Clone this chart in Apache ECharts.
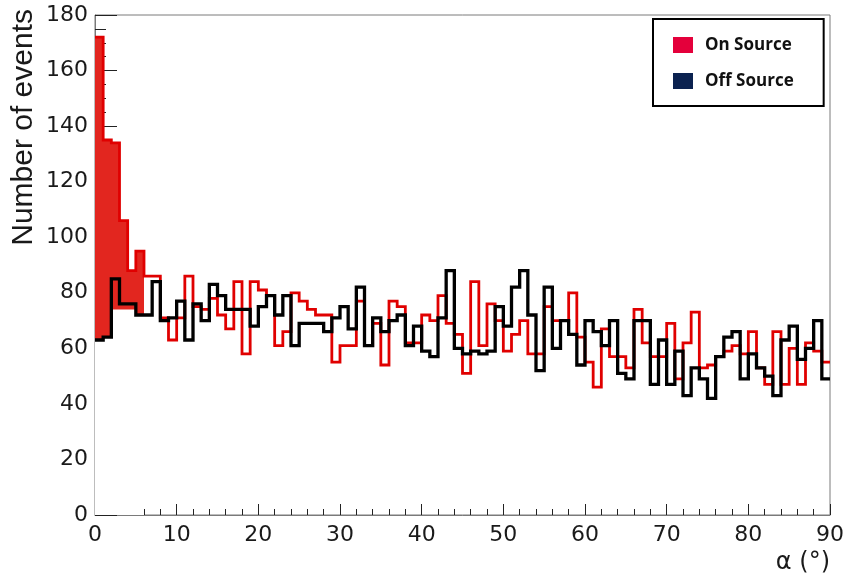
<!DOCTYPE html>
<html>
<head>
<meta charset="utf-8">
<script src="https://cdn.jsdelivr.net/npm/echarts@6.0.0/dist/echarts.min.js"></script>
<style>
html,body{margin:0;padding:0;background:#fff;}
#chart{width:848px;height:575px;}
</style>
</head>
<body>
<div id="chart"></div>
<script>
// alpha bins: 1 degree wide, from 0 to 90
const binStart = 0;
const binWidth = 1;

// On Source counts per bin
const onSource = [
  172,135,134,106,88,95,86,86,71,63,
  71,86,75,74,78,72,67,84,58,84,
  81,79,61,66,80,77,74,72,72,55,
  61,61,77,61,69,54,77,75,62,62,
  72,70,79,69,65,51,84,61,76,70,
  59,65,70,58,58,75,70,70,80,64,
  55,46,67,57,57,53,74,62,57,57,
  69,49,62,73,53,54,57,59,61,58,
  66,53,47,66,47,60,47,62,59,55
];

// Off Source counts per bin
const offSource = [
  63,64,85,76,76,72,72,84,70,71,
  77,63,76,70,83,79,74,74,74,68,
  75,79,72,79,61,69,69,69,66,71,
  75,67,82,61,71,66,70,72,61,68,
  59,57,71,88,60,58,59,58,59,75,
  68,82,88,72,52,82,60,70,65,54,
  70,66,61,70,51,49,70,70,47,63,
  47,59,43,53,49,42,57,64,66,49,
  58,53,50,43,63,68,56,60,70,49
];

// lower edge of the filled excess region (first bins)
const excessBase = [63,64,74,74,74,72];

const legendNames = ['On Source','Off Source'];

function stepData(vals){
  const d = vals.map((v,i)=>[binStart + i*binWidth, v]);
  d.push([binStart + vals.length*binWidth, vals[vals.length-1]]);
  return d;
}

const excessTop = onSource.slice(0, excessBase.length);

const chart = echarts.init(document.getElementById('chart'), null, {renderer:'canvas'});

const txt = '#1a1a1a';
const option = {
  animation:false,
  backgroundColor:'#fff',
  grid:{left:95, top:15, width:735, height:501, show:true, borderColor:'#7a7a7a', borderWidth:1, backgroundColor:'transparent'},
  legend:{
    data:[
      {name:legendNames[0], itemStyle:{color:'#e4003b', borderWidth:0}},
      {name:legendNames[1], itemStyle:{color:'#0b2250', borderWidth:0}}
    ],
    orient:'vertical', left:653, top:19,
    padding:[17,30,16,20],
    itemWidth:20, itemHeight:16, itemGap:18,
    icon:'rect',
    borderColor:'#000', borderWidth:2, backgroundColor:'#fff',
    selectedMode:false,
    textStyle:{fontFamily:'Open Sans', fontWeight:'bold', fontSize:17, color:'#111', lineHeight:18, padding:[0,0,0,7]}
  },
  xAxis:{
    type:'value', min:0, max:90, interval:10,
    axisLine:{show:true, onZero:false, lineStyle:{color:'#7a7a7a', width:1}},
    axisTick:{show:true, inside:true, length:11, lineStyle:{color:'#222', width:1}},
    minorTick:{show:true, splitNumber:5, length:6, lineStyle:{color:'#222', width:1}},
    splitLine:{show:false},
    axisLabel:{margin:9, fontFamily:'DejaVu Sans', fontSize:22, color:txt},
    name:'α (°)', nameLocation:'end', nameGap:0,
    nameTextStyle:{fontFamily:'DejaVu Sans', fontSize:24, color:txt, align:'right', verticalAlign:'top', padding:[36,0,0,0]}
  },
  yAxis:{
    type:'value', min:0, max:180, interval:20,
    axisLine:{show:true, onZero:false, lineStyle:{color:'#7a7a7a', width:1}},
    axisTick:{show:true, inside:true, length:22, lineStyle:{color:'#222', width:1}},
    minorTick:{show:true, splitNumber:4, length:11, lineStyle:{color:'#222', width:1}},
    splitLine:{show:false},
    axisLabel:{margin:7, fontFamily:'DejaVu Sans', fontSize:22, color:txt},
    name:'Number of events', nameLocation:'end', nameGap:6, nameRotate:90,
    nameTextStyle:{fontFamily:'Liberation Sans', fontSize:30, color:txt, align:'right', verticalAlign:'bottom', padding:[0,0,56,0]}
  },
  series:[
    {
      name:'excess', type:'line', step:'end',
      data:stepData(excessTop), symbol:'none', silent:true,
      lineStyle:{width:0, opacity:0},
      areaStyle:{color:'#e2261f', opacity:1}, z:1
    },
    {
      name:'excessBase', type:'line', step:'end',
      data:stepData(excessBase), symbol:'none', silent:true,
      lineStyle:{width:0, opacity:0},
      areaStyle:{color:'#ffffff', opacity:1}, z:2
    },
    {
      name:legendNames[0], type:'line', step:'end',
      data:stepData(onSource), symbol:'none',
      lineStyle:{color:'#e00000', width:2.8, join:'miter'},
      itemStyle:{color:'#e4003b'}, z:3
    },
    {
      name:legendNames[1], type:'line', step:'end',
      data:stepData(offSource), symbol:'none',
      lineStyle:{color:'#000', width:3.3, join:'miter'},
      itemStyle:{color:'#0b2250'}, z:4
    }
  ]
};
chart.setOption(option);
</script>
</body>
</html>
